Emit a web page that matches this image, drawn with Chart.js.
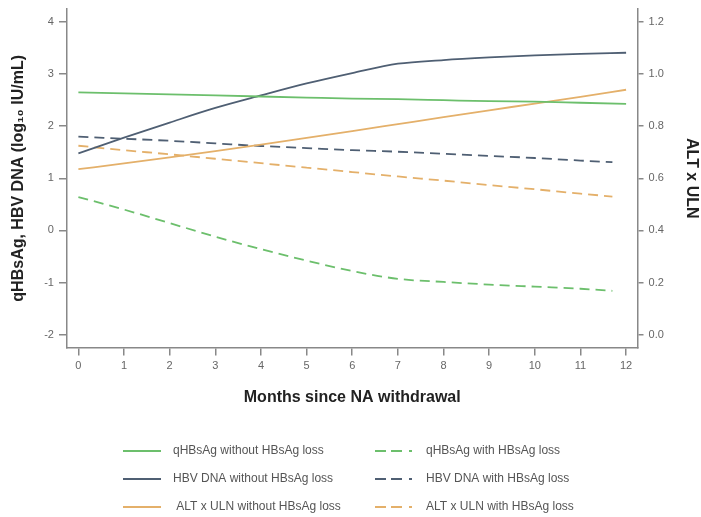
<!DOCTYPE html>
<html>
<head>
<meta charset="utf-8">
<script src="https://cdn.jsdelivr.net/npm/chart.js@4/dist/chart.umd.min.js"></script>
<style>
  html, body { margin: 0; padding: 0; background: #fff; }
  #wrap { width: 701px; height: 517px; position: relative; }
</style>
</head>
<body>
<div id="wrap"><canvas id="c" width="701" height="517"></canvas></div>
<script>
// ---- data ----
const monthsSolid  = [0, 1, 2, 3, 4, 5, 6, 7, 8, 9, 10, 11, 12];
const monthsDashed = [0, 1, 2, 3, 4, 5, 6, 7, 8, 9, 10, 11, 11.7];

const qHBsAgWithout = [2.65, 2.63, 2.61, 2.59, 2.57, 2.55, 2.53, 2.52, 2.50, 2.48, 2.47, 2.45, 2.43];
const hbvDnaWithout = [1.48, 1.78, 2.07, 2.35, 2.59, 2.82, 3.02, 3.20, 3.27, 3.32, 3.36, 3.39, 3.41];
const altWithout    = [0.635, 0.657, 0.680, 0.704, 0.729, 0.755, 0.781, 0.808, 0.835, 0.861, 0.887, 0.913, 0.940];

const qHBsAgWith = [0.64, 0.40, 0.14, -0.12, -0.36, -0.58, -0.78, -0.93, -0.99, -1.04, -1.08, -1.12, -1.16];
const hbvDnaWith = [1.80, 1.76, 1.72, 1.67, 1.62, 1.58, 1.54, 1.51, 1.47, 1.43, 1.39, 1.34, 1.31];
const altWith    = [0.725, 0.708, 0.692, 0.675, 0.658, 0.641, 0.624, 0.607, 0.591, 0.574, 0.558, 0.541, 0.530];

const seriesLabels = [
  'qHBsAg without HBsAg loss', 'HBV DNA without HBsAg loss', ' ALT x ULN without HBsAg loss',
  'qHBsAg with HBsAg loss', 'HBV DNA with HBsAg loss', 'ALT x ULN with HBsAg loss'
];
const xTickLabels = ['0','1','2','3','4','5','6','7','8','9','10','11','12'];
const leftTicks  = [-2, -1, 0, 1, 2, 3, 4];
const rightTicks = [0, 0.2, 0.4, 0.6, 0.8, 1.0, 1.2];

// ---- styling ----
const GREEN = '#6cbf6c', SLATE = '#4f5f73', TAN = '#e4b06a';
const DASH = [10, 6];
const FONT = "Arial, 'Liberation Sans', sans-serif";

function pts(xs, ys) { return xs.map((x, i) => ({ x: x, y: ys[i] })); }

const datasets = [
  { label: seriesLabels[0], data: pts(monthsSolid, qHBsAgWithout), borderColor: GREEN, yAxisID: 'y' },
  { label: seriesLabels[1], data: pts(monthsSolid, hbvDnaWithout), borderColor: SLATE, yAxisID: 'y' },
  { label: seriesLabels[2], data: pts(monthsSolid, altWithout), borderColor: TAN, yAxisID: 'y1' },
  { label: seriesLabels[3], data: pts(monthsDashed, qHBsAgWith), borderColor: GREEN, borderDash: DASH, yAxisID: 'y' },
  { label: seriesLabels[4], data: pts(monthsDashed, hbvDnaWith), borderColor: SLATE, borderDash: DASH, yAxisID: 'y' },
  { label: seriesLabels[5], data: pts(monthsDashed, altWith), borderColor: TAN, borderDash: DASH, yAxisID: 'y1' }
].map(d => Object.assign({ borderWidth: 1.8, pointRadius: 0, fill: false, cubicInterpolationMode: 'monotone' }, d));

// custom 2-column legend drawn on the canvas
const gridLegend = {
  id: 'gridLegend',
  afterDraw(chart) {
    const ctx = chart.ctx;
    const rowsY = [451, 479, 507];
    const cols = [{ x0: 123, x1: 161, tx: 173 }, { x0: 375, x1: 413, tx: 426 }];
    ctx.save();
    ctx.font = '12px ' + FONT;
    ctx.fillStyle = '#555';
    ctx.textBaseline = 'middle';
    chart.data.datasets.forEach((ds, i) => {
      const col = cols[i < 3 ? 0 : 1];
      const y = rowsY[i % 3];
      ctx.strokeStyle = ds.borderColor;
      ctx.lineWidth = 2;
      ctx.setLineDash(ds.borderDash ? [11, 5, 11, 7, 3, 100] : []);
      ctx.beginPath();
      ctx.moveTo(col.x0, y);
      ctx.lineTo(col.x1, y);
      ctx.stroke();
      ctx.setLineDash([]);
      ctx.fillText(ds.label, col.tx, y);
    });
    ctx.restore();
  }
};

function noVertPad(scale) { scale.paddingTop = 0; scale.paddingBottom = 0; }

new Chart(document.getElementById('c'), {
  type: 'line',
  data: { datasets: datasets },
  plugins: [gridLegend],
  options: {
    responsive: false,
    animation: false,
    layout: { padding: { left: 2, right: 0, top: 9, bottom: 110 } },
    plugins: { legend: { display: false }, tooltip: { enabled: false } },
    scales: {
      x: {
        type: 'linear', min: -0.25, max: 12.25,
        border: { display: true, color: '#888', width: 1.5 },
        grid: { drawOnChartArea: false, drawTicks: true, tickLength: 8, color: '#888', lineWidth: 1.5 },
        afterBuildTicks(scale) { scale.ticks = xTickLabels.map(v => ({ value: Number(v) })); },
        ticks: { font: { size: 11, family: FONT }, color: '#666', padding: 4,
                 callback: (v) => String(v) },
        title: { display: true, text: 'Months since NA withdrawal', color: '#222',
                 font: { size: 16, weight: 'bold', family: FONT }, padding: { top: 11, bottom: 0 } }
      },
      y: {
        type: 'linear', position: 'left', min: -2.25, max: 4.25,
        border: { display: true, color: '#888', width: 1.5 },
        grid: { drawOnChartArea: false, drawTicks: true, tickLength: 8, color: '#888', lineWidth: 1.5 },
        afterBuildTicks(scale) { scale.ticks = leftTicks.map(v => ({ value: v })); },
        afterFit: noVertPad,
        ticks: { font: { size: 11, family: FONT }, color: '#666', padding: 5,
                 callback: (v) => String(v) },
        title: { display: true, text: 'qHBsAg, HBV DNA (log\u2081\u2080 IU/mL)', color: '#222',
                 font: { size: 16, weight: 'bold', family: FONT }, padding: { top: 7, bottom: 11 } }
      },
      y1: {
        type: 'linear', position: 'right', min: -0.05, max: 1.25,
        border: { display: true, color: '#888', width: 1.5 },
        grid: { drawOnChartArea: false, drawTicks: true, tickLength: 6, color: '#888', lineWidth: 1.5 },
        afterBuildTicks(scale) { scale.ticks = rightTicks.map(v => ({ value: v })); },
        afterFit: noVertPad,
        ticks: { font: { size: 11, family: FONT }, color: '#666', padding: 5,
                 callback: (v) => Number(v).toFixed(1) },
        title: { display: true, text: 'ALT x ULN', color: '#222',
                 font: { size: 16, weight: 'bold', family: FONT }, padding: { top: 0, bottom: 13 } }
      }
    }
  }
});
</script>
</body>
</html>
